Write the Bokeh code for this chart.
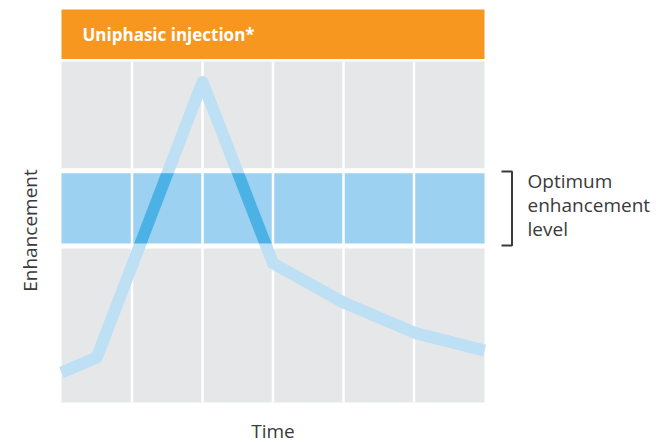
import numpy as np
from bokeh.plotting import figure
from bokeh.embed import file_html
from bokeh.resources import INLINE
from bokeh.core.properties import value

# ---- data ----
time = [0, 0.5, 2, 3, 4, 5, 6]
enhancement = [8.8, 13.2, 94.0, 40.8, 29.3, 20.5, 15.2]
grid_times = [1, 2, 3, 4, 5]
band_lo, band_hi = 46.6, 67.2
title_text = "Uniphasic injection*"
x_label = "Time"
y_label = "Enhancement"
band_label = ["Optimum", "enhancement", "level"]

# ---- layout ----
W, H = 656, 444
PX_X, PX_Y = 70.5, 3.41          # pixels per data unit
ORG_X, ORG_Y = 61, 402           # pixel position of (0, 0)
x_start, x_end = -ORG_X / PX_X, (W - ORG_X) / PX_X
y_start, y_end = -(H - ORG_Y) / PX_Y, ORG_Y / PX_Y
sx, sy = PX_X, PX_Y
BL = 8.5  # baseline correction (px)

def ux(px):  # pixel x -> data
    return (px - ORG_X) / PX_X

def uy(py):  # pixel y -> data
    return (ORG_Y - py) / PX_Y

GREY = "#e6e7e8"
ORANGE = "#f7971f"
BAND = "#9dd1f1"
LINE = "#bee0f5"
DARK = "#4cb1e5"
TEXT = "#3a3a3a"
FONT = value("Open Sans")

p = figure(width=W, height=H, x_range=(x_start, x_end), y_range=(y_start, y_end),
           output_backend="svg", toolbar_location=None,
           x_axis_location=None, y_axis_location=None, min_border=0)
p.grid.visible = False
p.outline_line_color = None
p.background_fill_color = "white"
p.border_fill_color = "white"

t0, t1 = time[0], time[-1]
# grey plot area
p.quad(left=[t0], right=[t1], bottom=[0], top=[uy(61)], fill_color=GREY, line_color=None)
# white gap + band
gap = 5 / sy
p.quad(left=[t0], right=[t1], bottom=[band_lo - gap], top=[band_hi + gap],
       fill_color="white", line_color=None)
p.quad(left=[t0], right=[t1], bottom=[band_lo], top=[band_hi], fill_color=BAND, line_color=None)
# vertical white grid lines
p.segment(x0=grid_times, y0=[0] * len(grid_times), x1=grid_times, y1=[uy(61)] * len(grid_times),
          line_color="white", line_width=2.5)

# curve
LW = 12
p.line(time, enhancement, line_color=LINE, line_width=LW, line_join="round")

# darker overlap where curve crosses band
xs_list, ys_list = [], []
for i in range(len(time) - 1):
    xa, ya, xb, yb = time[i], enhancement[i], time[i + 1], enhancement[i + 1]
    lo = max(band_lo, min(ya, yb))
    hi = min(band_hi, max(ya, yb))
    if hi <= lo or ya == yb:
        continue
    dxs, dys = (xb - xa) * sx, (yb - ya) * sy
    L = np.hypot(dxs, dys)
    h = (LW / 2) * L / abs(dys) / sx
    xc = lambda yy: xa + (yy - ya) * (xb - xa) / (yb - ya)
    xs_list.append([xc(lo) - h, xc(lo) + h, xc(hi) + h, xc(hi) - h])
    ys_list.append([lo, lo, hi, hi])
p.patches(xs_list, ys_list, fill_color=DARK, line_color=None)

# header (drawn over the top of the curve area)
p.quad(left=[t0], right=[t1], bottom=[uy(58.5)], top=[uy(9)],
       fill_color=ORANGE, line_color=None)
p.text(x=[ux(82)], y=[uy(34)],
       text=[title_text], text_font=FONT, text_font_size="17px", text_font_style="bold",
       text_color="white", text_baseline="middle", text_align="left")

# bracket
bx, bl = ux(511.5), ux(501)
b_top, b_bot = uy(171), uy(245)
p.line([bl, bx, bx, bl], [b_top, b_top, b_bot, b_bot], line_color=TEXT, line_width=2)

# band label
p.text(x=[ux(527)] * 3, y=[uy(189 - BL), uy(213 - BL), uy(237 - BL)],
       text=band_label, text_font=FONT, text_font_size="19px", text_color=TEXT,
       text_baseline="alphabetic", text_align="left")

# axis labels
p.text(x=[(t0 + t1) / 2], y=[uy(438.5 - BL)], text=[x_label], text_font=FONT, text_font_size="19px",
       text_color=TEXT, text_baseline="alphabetic", text_align="center")
p.text(x=[ux(37.7 - BL)], y=[uy(230)], text=[y_label], text_font=FONT, text_font_size="19px",
       text_color=TEXT, text_baseline="alphabetic", text_align="center", angle=np.pi / 2)

open("out.html", "w").write(file_html(p, INLINE))
